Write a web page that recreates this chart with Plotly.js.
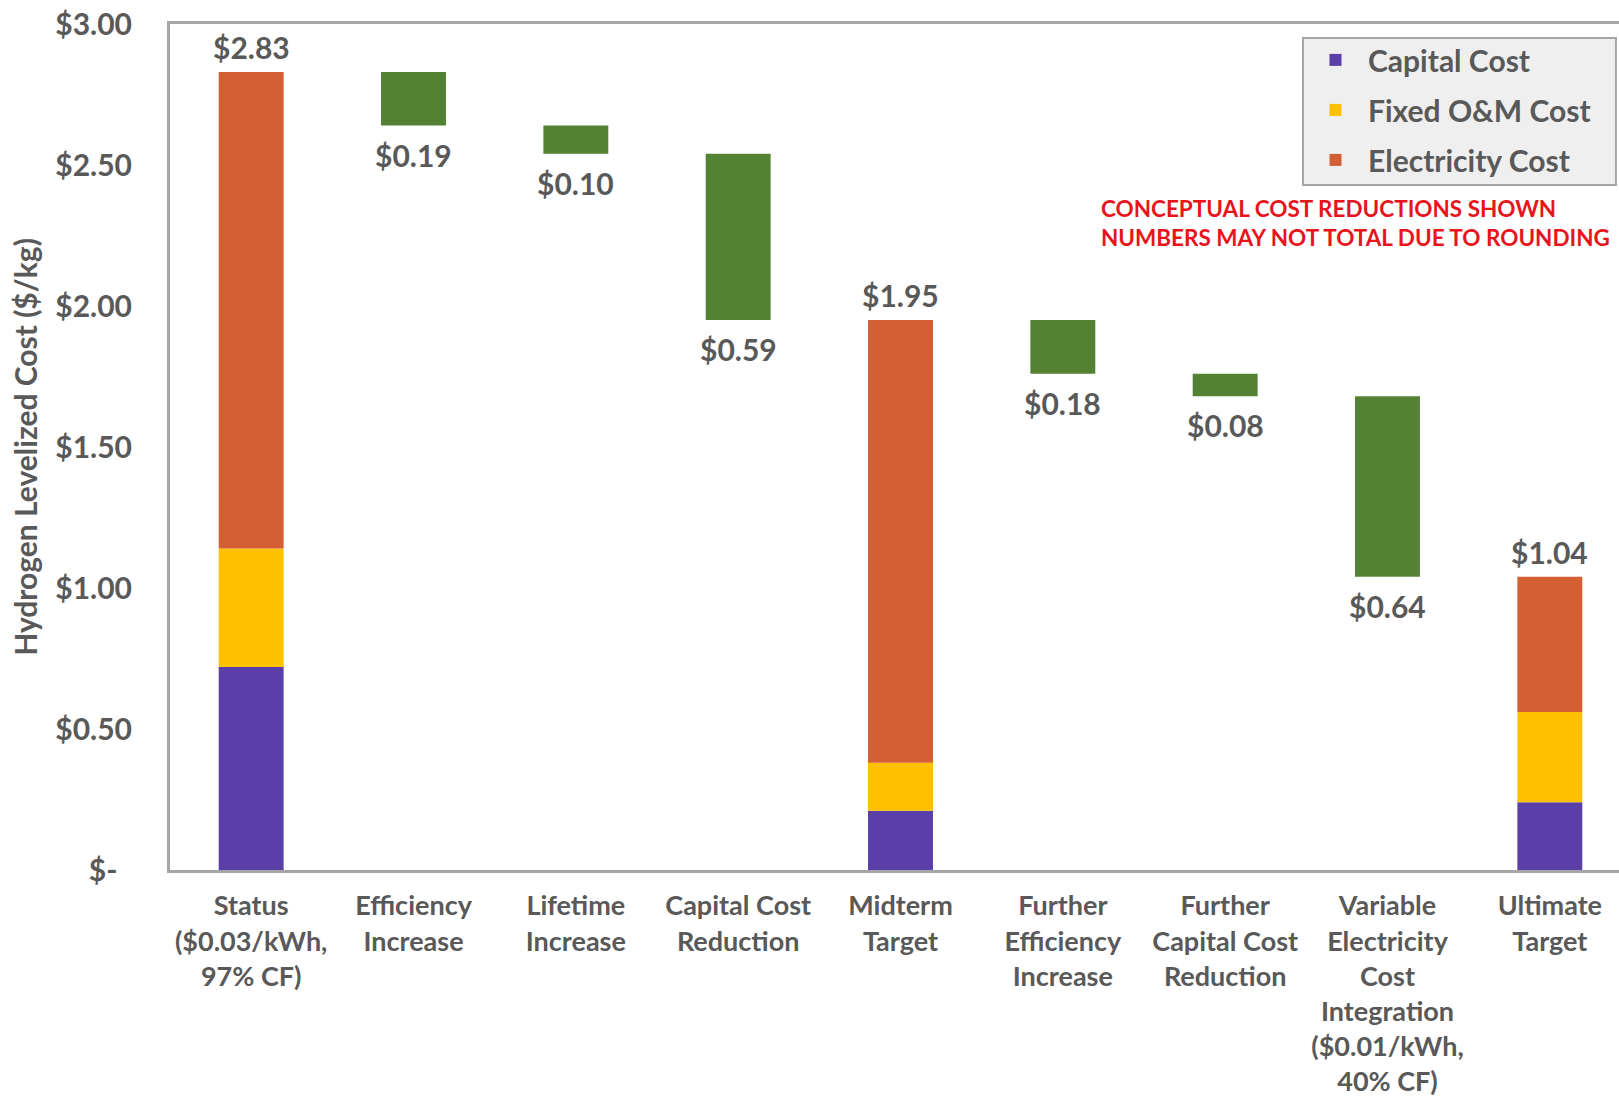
<!DOCTYPE html>
<html>
<head>
<meta charset="utf-8">
<script src="https://cdn.plot.ly/plotly-3.0.1.min.js"></script>
<style>
  html, body { margin: 0; padding: 0; overflow: hidden; background: #ffffff; }
  #chart { width: 1640px; height: 1098px; }
</style>
</head>
<body>
<div id="chart"></div>
<script>
// ---------------- data ----------------
const categories = [
  "Status", "Efficiency Increase", "Lifetime Increase", "Capital Cost Reduction",
  "Midterm Target", "Further Efficiency Increase", "Further Capital Cost Reduction",
  "Variable Electricity Cost Integration", "Ultimate Target"
];
const tickLabels = [
  "Status<br>($0.03/kWh,<br>97% CF)",
  "Efficiency<br>Increase",
  "Lifetime<br>Increase",
  "Capital Cost<br>Reduction",
  "Midterm<br>Target",
  "Further<br>Efficiency<br>Increase",
  "Further<br>Capital Cost<br>Reduction",
  "Variable<br>Electricity<br>Cost<br>Integration<br>($0.01/kWh,<br>40% CF)",
  "Ultimate<br>Target"
];
// stacked cost components (only for total bars)
const capitalCost     = [0.72, null, null, null, 0.21, null, null, null, 0.24];
const fixedOMCost     = [0.42, null, null, null, 0.17, null, null, null, 0.32];
const electricityCost = [1.69, null, null, null, 1.57, null, null, null, 0.48];
const totalLabels     = ["$2.83", null, null, null, "$1.95", null, null, null, "$1.04"];
const totals          = [2.83, null, null, null, 1.95, null, null, null, 1.04];

// reduction steps (waterfall)
const reductionCategories = [
  "Efficiency Increase", "Lifetime Increase", "Capital Cost Reduction",
  "Further Efficiency Increase", "Further Capital Cost Reduction",
  "Variable Electricity Cost Integration"
];
const reductionLabels = ["$0.19", "$0.10", "$0.59", "$0.18", "$0.08", "$0.64"];
const stepTop    = [2.83, 2.64, 2.54, 1.95, 1.76, 1.68];
const stepBottom = [2.64, 2.54, 1.95, 1.76, 1.68, 1.04];

const yTickVals = [0, 0.5, 1.0, 1.5, 2.0, 2.5, 3.0];
const yTickText = ["$-\u00a0\u00a0", "$0.50", "$1.00", "$1.50", "$2.00", "$2.50", "$3.00"];

// ---------------- styling ----------------
const FONT = "Lato, 'Open Sans', sans-serif";
const GREY = "#595959";
const COL_CAP = "#5a3fa8";
const COL_OM = "#ffc000";
const COL_EL = "#d45f33";
const COL_GREEN = "#548235";
const BAR_W = 0.40;

function sumArr(a, b) { return a.map((v, i) => (v == null ? null : v + (b[i] || 0))); }
const omBase = capitalCost.slice();
const elBase = sumArr(capitalCost, fixedOMCost);

const traces = [
  {
    type: "bar", name: "Capital Cost", x: categories, y: capitalCost, base: categories.map(() => 0),
    marker: { color: COL_CAP }, width: BAR_W, legendgroup: "a", hoverinfo: "skip"
  },
  {
    type: "bar", name: "Fixed O&M Cost", x: categories, y: fixedOMCost, base: omBase,
    marker: { color: COL_OM }, width: BAR_W, legendgroup: "b", hoverinfo: "skip"
  },
  {
    type: "bar", name: "Electricity Cost", x: categories, y: electricityCost, base: elBase,
    marker: { color: COL_EL }, width: BAR_W, legendgroup: "c", hoverinfo: "skip"
  },
  {
    type: "bar", name: "Reduction", x: reductionCategories,
    y: stepTop.map((t, i) => t - stepBottom[i]), base: stepBottom,
    marker: { color: COL_GREEN }, width: BAR_W, showlegend: false, hoverinfo: "skip"
  }
];

const annotations = [];
categories.forEach((c, i) => {
  if (totals[i] == null) return;
  annotations.push({
    x: c, y: totals[i], xref: "x", yref: "y", text: totalLabels[i], showarrow: false,
    yanchor: "middle", yshift: 25, font: { family: FONT, size: 30, color: GREY, weight: "bold" }
  });
});
reductionCategories.forEach((c, i) => {
  annotations.push({
    x: c, y: stepBottom[i], xref: "x", yref: "y", text: reductionLabels[i], showarrow: false,
    yanchor: "middle", yshift: -29, font: { family: FONT, size: 30, color: GREY, weight: "bold" }
  });
});
annotations.push({
  xref: "paper", yref: "paper", x: 0.636, y: 0.800, xanchor: "left", yanchor: "top", align: "left",
  text: "CONCEPTUAL COST REDUCTIONS SHOWN<br>NUMBERS MAY NOT TOTAL DUE TO ROUNDING",
  showarrow: false, font: { family: FONT, size: 22.5, color: "#e8141c", weight: "bold" }
});

const layout = {
  width: 1640, height: 1098,
  margin: { l: 170, r: 9, t: 24, b: 228, pad: 0 },
  paper_bgcolor: "#ffffff", plot_bgcolor: "#ffffff",
  barmode: "overlay",
  font: { family: FONT, color: GREY, size: 28, weight: "bold" },
  showlegend: true,
  shapes: [{
    type: "rect", xref: "paper", yref: "paper", layer: "below",
    x0: 0.7755, x1: 0.9897, y0: 0.8097, y1: 0.9835,
    fillcolor: "#efefef", line: { color: "#a6a6a6", width: 2 }
  }],
  legend: {
    x: 0.7755, y: 0.9883, xanchor: "left", yanchor: "top",
    bgcolor: "rgba(0,0,0,0)", borderwidth: 0,
    font: { family: FONT, size: 30, color: GREY, weight: "bold" },
    traceorder: "grouped", tracegroupgap: 8, itemwidth: 55
  },
  xaxis: {
    type: "category", categoryorder: "array", categoryarray: categories,
    tickvals: categories, ticktext: tickLabels,
    range: [-0.5, 8.5], fixedrange: true,
    showgrid: false, zeroline: false, ticks: "",
    showline: true, mirror: true, linecolor: "#a6a6a6", linewidth: 3,
    tickfont: { family: FONT, size: 27, color: GREY, weight: "bold" },
    ticklabelstandoff: 10
  },
  yaxis: {
    range: [0, 3], fixedrange: true,
    tickvals: yTickVals, ticktext: yTickText,
    showgrid: false, zeroline: false, ticks: "",
    showline: true, mirror: true, linecolor: "#a6a6a6", linewidth: 3,
    tickfont: { family: FONT, size: 30, color: GREY, weight: "bold" },
    ticklabelstandoff: 29,
    title: { text: "Hydrogen Levelized Cost ($/kg)", standoff: 9,
             font: { family: FONT, size: 30, color: GREY, weight: "bold" } }
  },
  annotations: annotations
};

Plotly.newPlot("chart", traces, layout, { displayModeBar: false, staticPlot: true });
</script>
</body>
</html>
